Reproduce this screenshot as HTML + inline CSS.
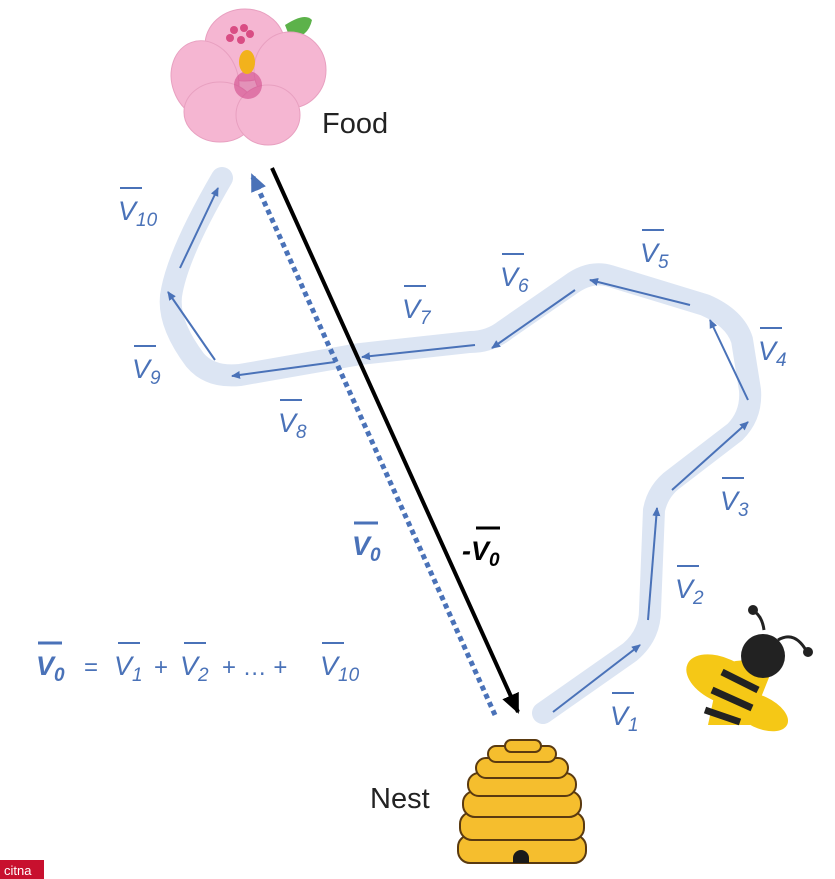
<!DOCTYPE html>
<html><head><meta charset="utf-8"><style>
body{margin:0;background:#fff}
svg{display:block}
.l{font-family:"Liberation Sans",sans-serif;font-style:italic;font-size:27px;fill:#4a72b8}
.s{font-size:19px}
.n{font-style:normal;font-size:24px}
</style></head><body>
<svg width="835" height="879" viewBox="0 0 835 879" xmlns="http://www.w3.org/2000/svg">
<defs>
<marker id="ab" markerWidth="10" markerHeight="10" refX="8" refY="5" orient="auto" markerUnits="userSpaceOnUse"><path d="M0,1 L9,5 L0,9z" fill="#4a72b8"/></marker>
<marker id="ak" markerWidth="22" markerHeight="22" refX="18" refY="11" orient="auto" markerUnits="userSpaceOnUse"><path d="M0,2 L20,11 L0,20z" fill="#000"/></marker>
<marker id="ad" markerWidth="20" markerHeight="20" refX="16" refY="10" orient="auto" markerUnits="userSpaceOnUse"><path d="M0,2 L18,10 L0,18z" fill="#4a72b8"/></marker>
</defs>
<path d="M543,713 L630,652 Q650,635 650,610 L654,510 Q658,490 675,478 L735,432 Q752,415 750,390 L742,340 Q735,318 705,305 L610,276 Q590,270 570,285 L505,330 Q490,342 470,342 L360,354 L240,375 Q210,378 195,360 Q165,320 172,290 Q180,250 222,178" fill="none" stroke="#dce5f3" stroke-width="22" stroke-linecap="round" stroke-linejoin="round"/>
<g stroke="#4a72b8" stroke-width="2" marker-end="url(#ab)">
<line x1="553" y1="712" x2="640" y2="645"/>
<line x1="648" y1="620" x2="657" y2="508"/>
<line x1="672" y1="490" x2="748" y2="422"/>
<line x1="748" y1="400" x2="710" y2="320"/>
<line x1="690" y1="305" x2="590" y2="280"/>
<line x1="575" y1="290" x2="492" y2="348"/>
<line x1="475" y1="345" x2="362" y2="357"/>
<line x1="335" y1="362" x2="232" y2="376"/>
<line x1="215" y1="360" x2="168" y2="292"/>
<line x1="180" y1="268" x2="218" y2="188"/>
</g>
<line x1="495" y1="715" x2="252" y2="175" stroke="#4a72b8" stroke-width="5" stroke-dasharray="5,4" marker-end="url(#ad)"/>
<line x1="272" y1="168" x2="518" y2="712" stroke="#000" stroke-width="4" marker-end="url(#ak)"/>
<g class="l">
<text x="118" y="220">V<tspan class="s" dy="6">10</tspan></text>
<text x="132" y="378">V<tspan class="s" dy="6">9</tspan></text>
<text x="278" y="432">V<tspan class="s" dy="6">8</tspan></text>
<text x="402" y="318">V<tspan class="s" dy="6">7</tspan></text>
<text x="500" y="286">V<tspan class="s" dy="6">6</tspan></text>
<text x="640" y="262">V<tspan class="s" dy="6">5</tspan></text>
<text x="758" y="360">V<tspan class="s" dy="6">4</tspan></text>
<text x="720" y="510">V<tspan class="s" dy="6">3</tspan></text>
<text x="675" y="598">V<tspan class="s" dy="6">2</tspan></text>
<text x="610" y="725">V<tspan class="s" dy="6">1</tspan></text>
<text x="352" y="555" font-weight="bold">V<tspan class="s" dy="6">0</tspan></text>
<text x="36" y="675" font-weight="bold">V<tspan class="s" dy="6">0</tspan></text>
<text x="84" y="675" class="n" style="font-size:24px;font-style:normal">=</text>
<text x="114" y="675">V<tspan class="s" dy="6">1</tspan></text>
<text x="154" y="675" style="font-size:24px;font-style:normal">+</text>
<text x="180" y="675">V<tspan class="s" dy="6">2</tspan></text>
<text x="222" y="675" style="font-size:24px;font-style:normal">+ … +</text>
<text x="320" y="675">V<tspan class="s" dy="6">10</tspan></text>
</g>
<g stroke="#4a72b8" stroke-width="2">
<line x1="120" y1="188" x2="142" y2="188"/><line x1="134" y1="346" x2="156" y2="346"/><line x1="280" y1="400" x2="302" y2="400"/><line x1="404" y1="286" x2="426" y2="286"/><line x1="502" y1="254" x2="524" y2="254"/><line x1="642" y1="230" x2="664" y2="230"/><line x1="760" y1="328" x2="782" y2="328"/><line x1="722" y1="478" x2="744" y2="478"/><line x1="677" y1="566" x2="699" y2="566"/><line x1="612" y1="693" x2="634" y2="693"/>
<line x1="354" y1="523" x2="378" y2="523" stroke-width="3"/><line x1="38" y1="643" x2="62" y2="643" stroke-width="3"/>
<line x1="118" y1="643" x2="140" y2="643"/><line x1="184" y1="643" x2="206" y2="643"/><line x1="322" y1="643" x2="344" y2="643"/>
</g>
<text x="462" y="560" font-family="Liberation Sans,sans-serif" font-size="27" font-weight="bold" font-style="italic">-V<tspan font-size="19" dy="6">0</tspan></text>
<line x1="476" y1="528" x2="500" y2="528" stroke="#000" stroke-width="3"/>
<text x="322" y="133" font-family="Liberation Sans,sans-serif" font-size="29" fill="#222">Food</text>
<text x="370" y="808" font-family="Liberation Sans,sans-serif" font-size="29" fill="#222">Nest</text>
<path d="M285,25 Q305,12 312,20 Q308,38 290,38z" fill="#5cb24a"/>
<g fill="#f5b6d2" stroke="#e8a0c0">
<ellipse cx="245" cy="45" rx="40" ry="36"/>
<ellipse cx="205" cy="80" rx="33" ry="40" transform="rotate(-20 205 80)"/>
<ellipse cx="290" cy="70" rx="36" ry="38"/>
<ellipse cx="220" cy="112" rx="36" ry="30"/>
<ellipse cx="268" cy="115" rx="32" ry="30"/>
</g>
<circle cx="248" cy="85" r="14" fill="#d04a8a" opacity=".6"/>
<ellipse cx="247" cy="62" rx="8" ry="12" fill="#f2b21c"/>
<g fill="#d94d84"><circle cx="234" cy="30" r="4"/><circle cx="244" cy="28" r="4"/><circle cx="250" cy="34" r="4"/><circle cx="230" cy="38" r="4"/><circle cx="241" cy="40" r="4"/></g>
<g fill="#f5be2e" stroke="#5a3a10" stroke-width="2">
<rect x="458" y="835" width="128" height="28" rx="12"/>
<rect x="460" y="812" width="124" height="28" rx="12"/>
<rect x="463" y="791" width="118" height="26" rx="12"/>
<rect x="468" y="773" width="108" height="23" rx="11"/>
<rect x="476" y="758" width="92" height="20" rx="10"/>
<rect x="488" y="746" width="68" height="16" rx="8"/>
<rect x="505" y="740" width="36" height="12" rx="6"/>
</g>
<path d="M513,863 V858 a8,8 0 0 1 16,0 V863z" fill="#1a1a1a"/>
<path d="M764,630 Q762,615 752,610" stroke="#222" stroke-width="3" fill="none"/><circle cx="753" cy="610" r="5" fill="#222"/>
<path d="M778,640 Q795,630 807,652" stroke="#222" stroke-width="3" fill="none"/><circle cx="808" cy="652" r="5" fill="#222"/>
<ellipse cx="722" cy="680" rx="38" ry="22" transform="rotate(25 722 680)" fill="#f5c816"/>
<ellipse cx="760" cy="712" rx="30" ry="16" transform="rotate(25 760 712)" fill="#f5c816"/>
<path d="M708,725 L720,668 Q745,650 770,675 L750,725z" fill="#f5c816"/>
<g stroke="#222" stroke-width="7"><line x1="722" y1="672" x2="758" y2="690"/><line x1="712" y1="690" x2="752" y2="708"/><line x1="705" y1="710" x2="740" y2="722"/></g>
<circle cx="763" cy="656" r="22" fill="#222"/>
<rect x="0" y="860" width="44" height="19" fill="#c8102e"/>
<text x="4" y="875" font-family="Liberation Sans,sans-serif" font-size="13" fill="#fff">citna</text>
</svg>
</body></html>
